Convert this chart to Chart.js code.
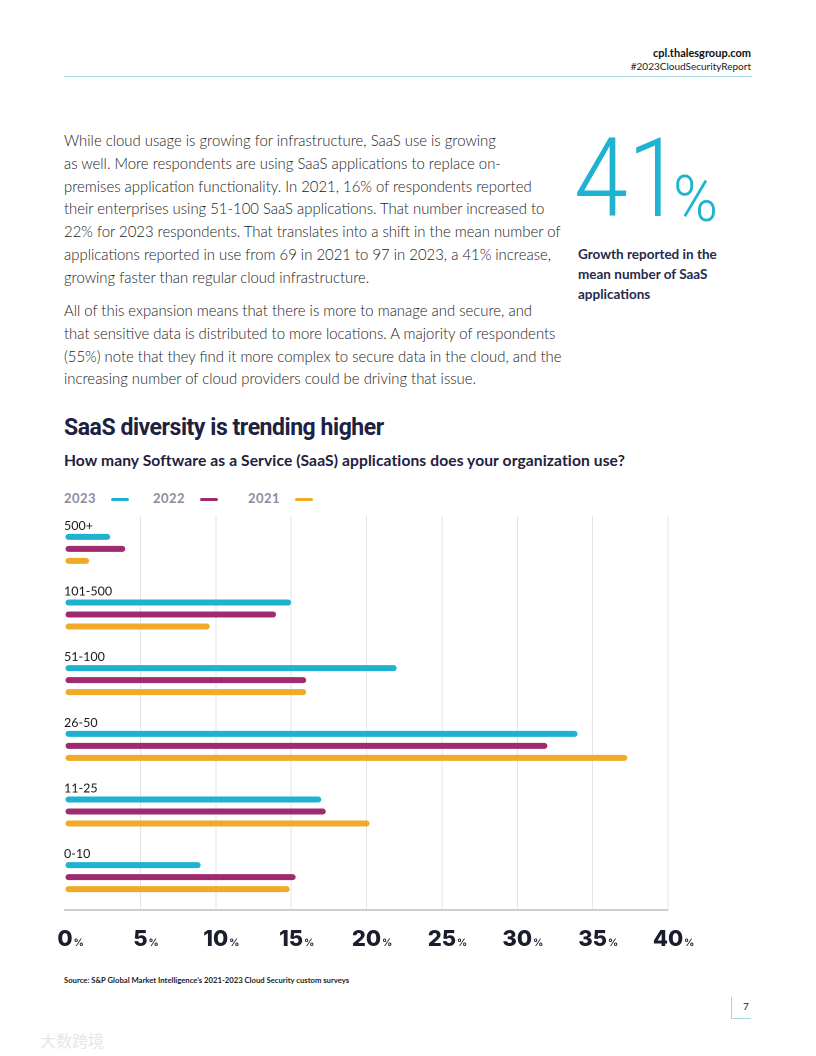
<!DOCTYPE html>
<html>
<head>
<meta charset="utf-8">
<script src="https://cdn.jsdelivr.net/npm/chart.js@4.4.0/dist/chart.umd.min.js"></script>
<style>
  html, body { margin:0; padding:0; background:#fff; }
  body { width:816px; height:1056px; position:relative; overflow:hidden; font-family:"Lato", sans-serif; }
  .abs { position:absolute; white-space:nowrap; }
  #hdr1 { right:65px; top:46px; font:700 11px "Lato", sans-serif; color:#111; text-align:right; }
  #hdr2 { right:65px; top:60px; font:400 10px "Lato", sans-serif; color:#222; text-align:right; }
  #hline { left:64px; top:76px; width:688px; height:1px; background:#a9d5e5; }
  .body { left:64px; font:300 14.9px/22.8px "Lato", sans-serif; color:#222; }
  #big { left:574px; top:125px; font:300 109px "Roboto", sans-serif; color:#1fb3d1; transform:scaleX(0.89); transform-origin:left top; line-height:1; }
  #pct { left:673px; top:168px; font:300 64px "Roboto", sans-serif; color:#1fb3d1; transform:scaleX(0.95); transform-origin:left top; line-height:1; }
  #growth { left:578px; top:244px; font:700 13.5px/20.2px "Lato", sans-serif; color:#262a4b; }
  #title { left:64px; top:414px; font:700 23px "Roboto", sans-serif; color:#1e2140; letter-spacing:-0.45px; }
  #sub { left:64px; top:451px; font:700 15.6px "Lato", sans-serif; color:#1e2140; letter-spacing:0.1px; }
  #legend { left:64px; top:490px; font:700 13px "Lato", sans-serif; color:#8c8ca0; letter-spacing:0.5px; }
  .lg { position:absolute; top:0; }
  .sw { position:absolute; top:8px; width:18px; height:3px; border-radius:2px; }
  #src { left:64px; top:975px; font:700 7.7px "Lato", sans-serif; color:#222; }
  #pg { left:743px; top:1000px; font:400 10px "Lato", sans-serif; color:#222; }
  #brv { left:731px; top:997px; width:1px; height:21px; background:#a9d5e5; }
  #brh { left:731px; top:1018px; width:20px; height:1px; background:#a9d5e5; }
  #wm { left:40px; top:1028px; font:400 16px "Noto Sans CJK SC", sans-serif; color:#e6e6e6; }
  #chartWrap { position:absolute; left:0; top:500px; width:816px; height:470px; }
</style>
</head>
<body>
<div class="abs" id="hdr1">cpl.thalesgroup.com</div>
<div class="abs" id="hdr2">#2023CloudSecurityReport</div>
<div class="abs" id="hline"></div>

<div class="abs body" style="top:129px;">While cloud usage is growing for infrastructure, SaaS use is growing<br>as well. More respondents are using SaaS applications to replace on-<br>premises application functionality. In 2021, 16% of respondents reported<br>their enterprises using 51-100 SaaS applications. That number increased to<br>22% for 2023 respondents. That translates into a shift in the mean number of<br>applications reported in use from 69 in 2021 to 97 in 2023, a 41% increase,<br>growing faster than regular cloud infrastructure.</div>
<div class="abs body" style="top:299px;">All of this expansion means that there is more to manage and secure, and<br>that sensitive data is distributed to more locations. A majority of respondents<br>(55%) note that they find it more complex to secure data in the cloud, and the<br>increasing number of cloud providers could be driving that issue.</div>

<div class="abs" id="big">41</div>
<div class="abs" id="pct">%</div>
<div class="abs" id="growth">Growth reported in the<br>mean number of SaaS<br>applications</div>

<div class="abs" id="title">SaaS diversity is trending higher</div>
<div class="abs" id="sub">How many Software as a Service (SaaS) applications does your organization use?</div>
<div class="abs" id="legend"></div>

<div id="chartWrap"><canvas id="c" width="816" height="470" style="width:816px;height:470px;"></canvas></div>

<div class="abs" id="src">Source: S&amp;P Global Market Intelligence’s 2021-2023 Cloud Security custom surveys</div>
<div class="abs" id="brv"></div>
<div class="abs" id="brh"></div>
<div class="abs" id="pg">7</div>
<div class="abs" id="wm">大数跨境</div>

<script>
// ---- data ----
const categories = ["500+", "101-500", "51-100", "26-50", "11-25", "0-10"];
const years = ["2023", "2022", "2021"];
const values2023 = [3, 15, 22, 34, 17, 9];
const values2022 = [4, 14, 16, 32, 17.3, 15.3];
const values2021 = [1.6, 9.6, 16, 37.3, 20.2, 14.9];
const tickValues = [0, 5, 10, 15, 20, 25, 30, 35, 40];
const colors = ["#1eb1d0", "#9e2a6f", "#f0a928"];

// legend (HTML)
const legendEl = document.getElementById('legend');
const legendX = [0, 89, 184];
years.forEach((y, i) => {
  const d = document.createElement('div');
  d.className = 'lg';
  d.style.left = legendX[i] + 'px';
  d.textContent = y;
  const s = document.createElement('div');
  s.className = 'sw';
  s.style.left = '47px';
  s.style.background = colors[i];
  d.appendChild(s);
  legendEl.appendChild(d);
});

const catLabelPlugin = {
  id: 'catLabels',
  afterDatasetsDraw(chart) {
    const ctx = chart.ctx;
    const ys = chart.scales.y;
    ctx.save();
    ctx.font = '400 12.5px "Lato", sans-serif';
    ctx.fillStyle = '#1a1a1a';
    ctx.textBaseline = 'middle';
    ctx.textAlign = 'left';
    categories.forEach((c, i) => {
      ctx.fillText(c, chart.chartArea.left - 1, ys.getPixelForValue(i) - 23);
    });
    ctx.restore();
  }
};

const tickPlugin = {
  id: 'bigTicks',
  afterDraw(chart) {
    const ctx = chart.ctx;
    const xs = chart.scales.x;
    const base = chart.chartArea.bottom + 36;
    ctx.save();
    ctx.fillStyle = '#1b1d2e';
    ctx.textBaseline = 'alphabetic';
    tickValues.forEach(v => {
      const px = xs.getPixelForValue(v);
      const num = String(v);
      ctx.font = '800 22px "Inter", sans-serif';
      const w = ctx.measureText(num).width;
      ctx.textAlign = 'left';
      ctx.fillText(num, px - w / 2, base);
      ctx.font = '700 10px "Inter", sans-serif';
      ctx.fillText('%', px + w / 2 + 1, base);
    });
    ctx.restore();
  }
};

new Chart(document.getElementById('c'), {
  type: 'bar',
  data: {
    labels: categories,
    datasets: [
      { label: years[0], data: values2023, backgroundColor: colors[0] },
      { label: years[1], data: values2022, backgroundColor: colors[1] },
      { label: years[2], data: values2021, backgroundColor: colors[2] }
    ].map(d => Object.assign(d, {
      borderRadius: 3, borderSkipped: false,
      categoryPercentage: 0.548, barPercentage: 0.5
    }))
  },
  options: {
    indexAxis: 'y',
    responsive: false,
    animation: false,
    devicePixelRatio: 2,
    layout: { padding: { left: 65, right: 148, top: 16, bottom: 60 } },
    plugins: { legend: { display: false }, tooltip: { enabled: false } },
    scales: {
      x: {
        min: 0, max: 40,
        ticks: { display: false, stepSize: 5 },
        grid: {
          drawTicks: false,
          color: ctx => (ctx.tick && ctx.tick.value === 0) ? 'rgba(0,0,0,0)' : '#e4e4e4',
          lineWidth: 1
        },
        border: { display: true, color: '#cfcfcf', width: 2 }
      },
      y: {
        display: false,
        grid: { display: false }
      }
    }
  },
  plugins: [catLabelPlugin, tickPlugin]
});
</script>
</body>
</html>
